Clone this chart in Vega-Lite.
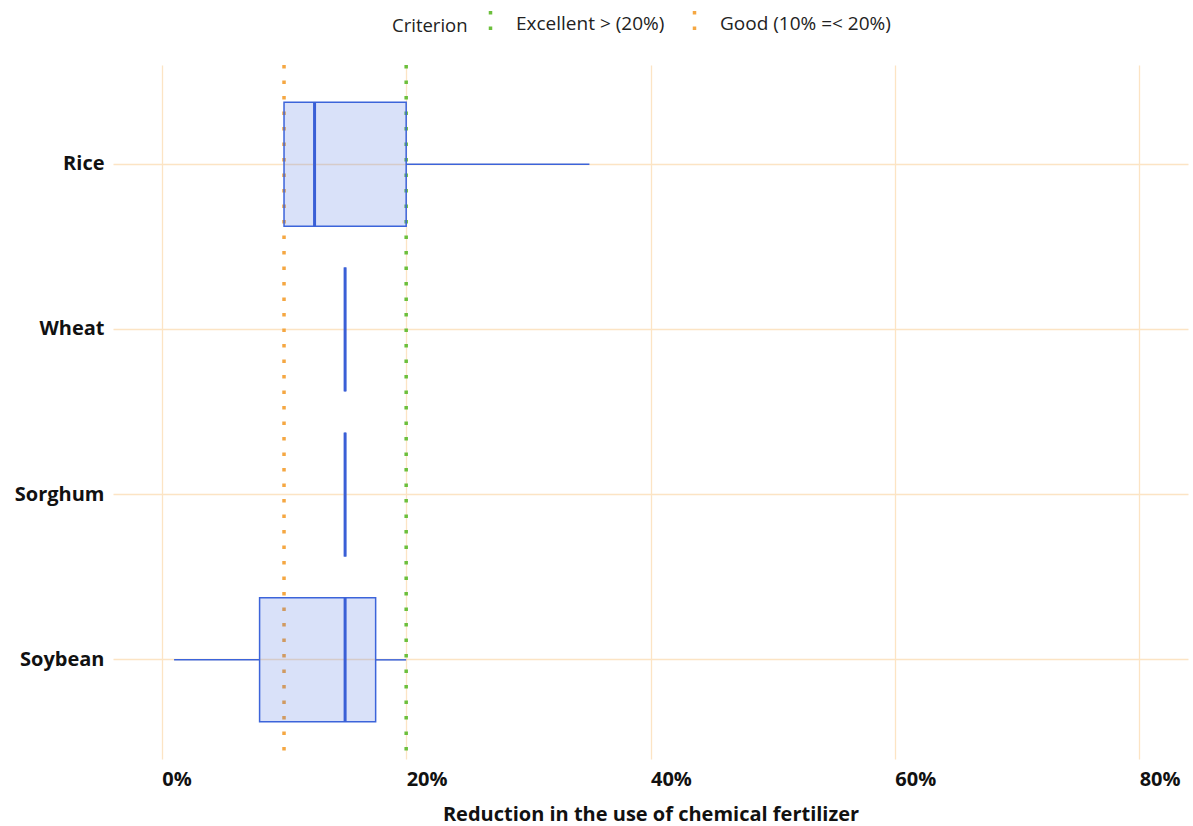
{
  "$schema": "https://vega.github.io/schema/vega-lite/v6.json",
  "width": 1075,
  "height": 694,
  "autosize": {"type": "none"},
  "padding": {"left": 113, "top": 65, "right": 5, "bottom": 67},
  "background": "white",
  "config": {
    "view": {"stroke": null},
    "font": "Open Sans",
    "axis": {
      "domain": false,
      "ticks": false,
      "grid": true,
      "gridColor": "#FCE4C4",
      "gridWidth": 1.3,
      "labelFont": "Open Sans",
      "labelFontWeight": "bold",
      "labelFontSize": 20,
      "labelColor": "#111111",
      "titleFont": "Open Sans",
      "titleFontWeight": "bold",
      "titleFontSize": 20,
      "titleColor": "#111111"
    },
    "legend": {
      "labelFont": "Open Sans",
      "titleFont": "Open Sans"
    }
  },
  "datasets": {
    "stats": [
      {"crop": "Rice", "min": 10, "q1": 10, "median": 12.5, "q3": 20, "max": 35},
      {"crop": "Wheat", "min": 15, "q1": 15, "median": 15, "q3": 15, "max": 15},
      {"crop": "Sorghum", "min": 15, "q1": 15, "median": 15, "q3": 15, "max": 15},
      {"crop": "Soybean", "min": 1, "q1": 8, "median": 15, "q3": 17.5, "max": 20}
    ],
    "criteria": [
      {"criterion": "Excellent > (20%)", "value": 20},
      {"criterion": "Good (10% =< 20%)", "value": 10}
    ]
  },
  "layer": [
    {
      "data": {"name": "criteria"},
      "mark": {"type": "rule", "strokeWidth": 3.5, "strokeDash": [3.5, 12], "strokeCap": "butt"},
      "encoding": {
        "x": {
          "field": "value",
          "type": "quantitative",
          "scale": {"domain": [-4, 84], "nice": false, "zero": false},
          "axis": {
            "values": [0, 20, 40, 60, 80],
            "labelExpr": "datum.value + '%'",
            "labelAlign": "left",
            "labelPadding": 10,
            "title": "Reduction in the use of chemical fertilizer",
            "titlePadding": 15
          }
        },
        "color": {
          "field": "criterion",
          "type": "nominal",
          "scale": {"domain": ["Excellent > (20%)", "Good (10% =< 20%)"], "range": ["#6CBF3C", "#F5A742"]},
          "legend": {
            "title": "Criterion",
            "orient": "none",
            "direction": "horizontal",
            "legendX": 279,
            "legendY": -56,
            "titleOrient": "left",
            "titleFontWeight": "normal",
            "titleFontSize": 18.5,
            "titleColor": "#222222",
            "titlePadding": 8,
            "labelFontSize": 19,
            "labelColor": "#222222",
            "labelLimit": 400,
            "labelOffset": 11,
            "columnPadding": 15,
            "symbolType": "M0,-1L0,1",
            "symbolSize": 625,
            "symbolStrokeWidth": 3.5,
            "symbolDash": [3.5, 12]
          }
        }
      }
    },
    {
      "data": {"name": "stats"},
      "mark": {"type": "rule", "strokeWidth": 1.5, "color": "#3C64DA"},
      "encoding": {
        "x": {"field": "min", "type": "quantitative"},
        "x2": {"field": "q1"},
        "y": {
          "field": "crop",
          "type": "nominal",
          "sort": ["Rice", "Wheat", "Sorghum", "Soybean"],
          "scale": {"paddingInner": 0, "paddingOuter": 0.1},
          "axis": {"title": null, "labelPadding": 9, "bandPosition": 0.5, "grid": true}
        }
      }
    },
    {
      "data": {"name": "stats"},
      "mark": {"type": "rule", "strokeWidth": 1.5, "color": "#3C64DA"},
      "encoding": {
        "x": {"field": "q3", "type": "quantitative"},
        "x2": {"field": "max"},
        "y": {"field": "crop", "type": "nominal", "sort": ["Rice", "Wheat", "Sorghum", "Soybean"]}
      }
    },
    {
      "data": {"name": "stats"},
      "mark": {"type": "bar", "size": 124, "fill": "#4169E1", "fillOpacity": 0.2, "stroke": "#3C64DA", "strokeWidth": 1.5},
      "encoding": {
        "x": {"field": "q1", "type": "quantitative"},
        "x2": {"field": "q3"},
        "y": {"field": "crop", "type": "nominal", "sort": ["Rice", "Wheat", "Sorghum", "Soybean"]}
      }
    },
    {
      "data": {"name": "stats"},
      "mark": {"type": "tick", "orient": "vertical", "size": 124, "thickness": 3, "color": "#3A5FD6", "opacity": 1},
      "encoding": {
        "x": {"field": "median", "type": "quantitative"},
        "y": {"field": "crop", "type": "nominal", "sort": ["Rice", "Wheat", "Sorghum", "Soybean"]}
      }
    }
  ]
}
